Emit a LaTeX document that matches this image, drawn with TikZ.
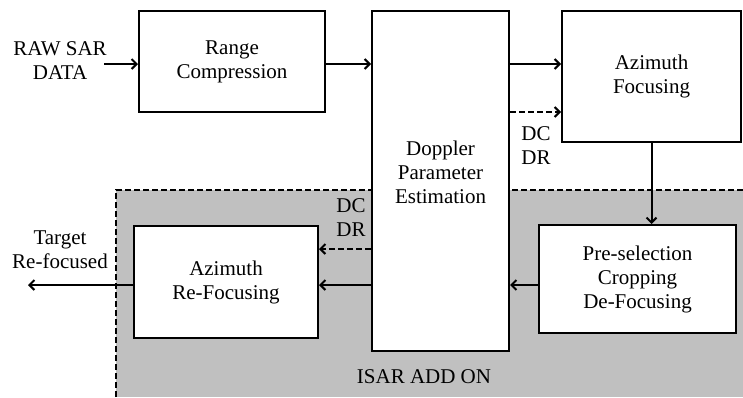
\documentclass[tikz,border=0pt]{standalone}
\usepackage{fontspec}
\setmainfont{Liberation Serif}
\usetikzlibrary{positioning, arrows.meta}
\definecolor{addon}{RGB}{192,192,192}

\begin{document}
\begin{tikzpicture}[x=1pt, y=-1pt,
  every node/.style={inner sep=2pt, font=\rmfamily\fontsize{21}{24}\selectfont},
  block/.style={draw, fill=white, line width=2pt, align=center},
  lbl/.style={align=center},
  arrow/.style={-{Straight Barb[length=5pt, width=10pt]}, line width=2pt},
  dasharrow/.style={arrow, dash pattern=on 6pt off 3pt}]
\useasboundingbox (0,0) rectangle (743,397);
% shaded add-on region with dashed border
\fill[addon] (116,190) rectangle (743,397);
\draw[line width=2pt, dash pattern=on 6pt off 3pt] (116,397) -- (116,190) -- (743,190);
\node[lbl] (isar) at (424,377) {ISAR ADD ON};

\node[block, minimum width=186pt, minimum height=101pt] (range) at (232,61.5) {Range\\Compression};
\node[block, minimum width=137pt, minimum height=340pt] (doppler) at (440.5,181) {};
\node[lbl] (doptext) at ([yshift=9pt]doppler.center) {Doppler\\Parameter\\Estimation};
\node[block, minimum width=179pt, minimum height=131pt] (azfoc) at (651.5,76.5) {Azimuth\\Focusing};
\node[block, minimum width=197pt, minimum height=108pt] (presel) at (637.5,279) {Pre-selection\\Cropping\\De-Focusing};
\node[block, minimum width=184pt, minimum height=112pt] (azref) at (226,282) {Azimuth\\Re-Focusing};

\node[lbl] (raw) at (60,61) {RAW SAR\\DATA};
\node[lbl] (target) at (60,250) {Target\\Re-focused};
\node[lbl] (dctop) at (536,146) {DC\\DR};
\node[lbl] (dcbot) at (351,218) {DC\\DR};

\coordinate (rawend) at (104,64);
\coordinate (outend) at (28,285);
\coordinate (toprow) at (0,64);
\coordinate (dashtop) at (0,112);
\coordinate (dashbot) at (0,249);
\coordinate (lowrow) at (0,285);

\draw[arrow] (rawend) -- (range.west |- rawend);
\draw[arrow] (range.east |- toprow) -- (doppler.west |- toprow);
\draw[arrow] (doppler.east |- toprow) -- (azfoc.west |- toprow);
\draw[dasharrow] (doppler.east |- dashtop) -- (azfoc.west |- dashtop);
\draw[arrow] (azfoc.south) -- (azfoc.south |- presel.north);
\draw[arrow] (presel.west |- lowrow) -- (doppler.east |- lowrow);
\draw[arrow] (doppler.west |- lowrow) -- (azref.east |- lowrow);
\draw[dasharrow] (doppler.west |- dashbot) -- (azref.east |- dashbot);
\draw[arrow] (azref.west |- lowrow) -- (outend);
\end{tikzpicture}
\end{document}
